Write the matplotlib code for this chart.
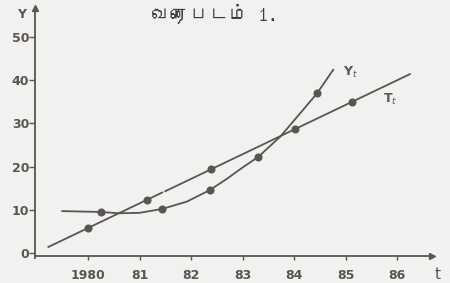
import matplotlib
matplotlib.use("Agg")
import matplotlib.pyplot as plt
from matplotlib import font_manager
from matplotlib.ft2font import FT2Font

# ---- data ----
title = "வரைபடம் 1."
x_ticks = [1980, 1981, 1982, 1983, 1984, 1985, 1986]
x_tick_labels = ["1980", "81", "82", "83", "84", "85", "86"]
y_ticks = [0, 10, 20, 30, 40, 50]
y_tick_labels = ["0", "10", "20", "30", "40", "50"]

# actual series Y_t (hand-drawn curve) and its marked points
yt_curve_t = [1979.50, 1980.25, 1980.60, 1981.00, 1981.44, 1981.92, 1982.37,
              1982.70, 1982.99, 1983.30, 1983.73, 1984.06, 1984.45, 1984.76]
yt_curve_v = [9.7, 9.5, 9.2, 9.3, 10.2, 11.9, 14.6, 17.2, 19.7, 22.2, 26.9,
              31.5, 37.0, 42.4]
yt_pts_t = [1980.25, 1981.44, 1982.37, 1983.30, 1984.45]
yt_pts_v = [9.5, 10.2, 14.6, 22.2, 37.0]

# trend line T_t (two drawn segments with a small gap) and its marked points
tt_seg1_t = [1979.23, 1981.44]
tt_seg1_v = [1.4, 14.0]
tt_seg2_t = [1981.50, 1986.25]
tt_seg2_v = [14.3, 41.4]
tt_pts_t = [1980.00, 1981.15, 1982.39, 1984.02, 1985.13]
tt_pts_v = [5.8, 12.3, 19.4, 28.7, 34.9]


def find_font(codepoint):
    for f in font_manager.fontManager.ttflist:
        try:
            if codepoint in FT2Font(f.fname).get_charmap():
                return f.name
        except Exception:
            pass
    return None


tamil_font = find_font(0x0BB5)
title_family = [tamil_font, "DejaVu Serif"] if tamil_font else ["DejaVu Serif"]

bg = "#f1f1ef"
ink = "#5a5452"

fig = plt.figure(figsize=(4.5, 2.83), dpi=100, facecolor=bg)
ax = fig.add_axes([0, 0, 1, 1], facecolor=bg)
ax.set_xlim(1978.291, 1987.029)
ax.set_ylim(-6.94, 58.56)

x0 = 1978.97  # position of the vertical axis
for s in ["top", "right"]:
    ax.spines[s].set_visible(False)
ax.spines["left"].set_position(("data", x0))
ax.spines["bottom"].set_position(("data", -0.6))
ax.spines["left"].set_bounds(-1.2, 56.5)
ax.spines["bottom"].set_bounds(x0, 1986.6)
for s in ["left", "bottom"]:
    ax.spines[s].set_color(ink)
    ax.spines[s].set_linewidth(1.3)

# arrow heads
ax.plot([x0], [56.8], marker="^", color=ink, markersize=5, clip_on=False)
ax.plot([1986.68], [-0.6], marker=">", color=ink, markersize=5, clip_on=False)

ax.set_xticks(x_ticks)
ax.set_xticklabels(x_tick_labels)
ax.set_yticks(y_ticks)
ax.set_yticklabels(y_tick_labels)
ax.tick_params(axis="x", direction="out", length=3, width=1, color=ink,
               pad=7, labelsize=9, labelcolor=ink)
ax.tick_params(axis="y", direction="out", length=4, width=1, color=ink,
               pad=0, labelsize=9, labelcolor=ink)
for lab in ax.get_xticklabels() + ax.get_yticklabels():
    lab.set_fontweight("bold")

# series
ax.plot(yt_curve_t, yt_curve_v, color=ink, lw=1.3)
ax.plot(yt_pts_t, yt_pts_v, "o", color=ink, markersize=4.8)
ax.plot(tt_seg1_t, tt_seg1_v, color=ink, lw=1.3)
ax.plot(tt_seg2_t, tt_seg2_v, color=ink, lw=1.3)
ax.plot(tt_pts_t, tt_pts_v, "o", color=ink, markersize=4.8)

# labels
ax.text(1984.95, 41.8, "Y$_t$", color=ink, fontsize=9, fontweight="bold", va="center")
ax.text(1985.72, 35.6, "T$_t$", color=ink, fontsize=9, fontweight="bold", va="center")
ax.text(1978.72, 55.3, "Y", color=ink, fontsize=9, fontweight="bold",
        ha="center", va="center")
ax.text(1986.78, -4.9, "t", color=ink, fontsize=11, ha="center", va="center")
ax.text(1981.23, 55.6, title, family=title_family, fontsize=14, color="#3a3a3a",
        ha="left", va="center")

fig.savefig("out.png", dpi=100, facecolor=bg)
